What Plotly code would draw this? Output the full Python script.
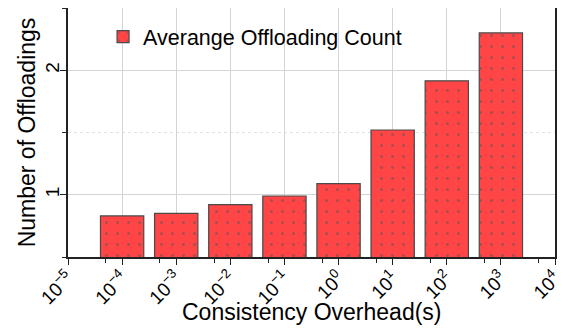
import math

import plotly.graph_objects as go


# data: x is the exponent of the consistency overhead (10^k seconds)
exponents = [-4, -3, -2, -1, 0, 1, 2, 3]
avg_offloads = [0.83, 0.85, 0.92, 0.99, 1.09, 1.52, 1.915, 2.30]
tick_exps = [-5, -4, -3, -2, -1, 0, 1, 2, 3, 4]
tick_labels = [f"10<sup>{str(k).replace('-', '−')}</sup>" for k in tick_exps]

FONT = "Liberation Sans, Arial, sans-serif"
BAR_RED = "#ff4545"
AXIS = "#222222"
GRID = "#d4d4d4"

fig = go.Figure()
fig.add_trace(go.Bar(
    x=exponents, y=avg_offloads, width=0.8,
    name="Averange Offloading Count",
    marker=dict(color=BAR_RED, line=dict(color="#4a4a4a", width=1.2),
                pattern=dict(shape=".", fgcolor="#555555", bgcolor=BAR_RED, size=11, solidity=0.06)),
))

# one minor tick per decade, at 5 x 10^(k-1)
minor_x = [k - 1 + math.log10(5) for k in tick_exps[1:]]

# the page body adds an 8px margin, so the figure is a bit smaller than the window
fig.update_layout(
    width=563, height=327,
    margin=dict(l=60, r=16, t=0, b=78),
    plot_bgcolor="white", paper_bgcolor="white",
    font=dict(family=FONT, color="black"),
    showlegend=True,
    legend=dict(x=0.072, y=0.967, xanchor="left", yanchor="top", bgcolor="rgba(0,0,0,0)",
                font=dict(size=21.5, family=FONT)),
    xaxis=dict(
        range=[-5, 4], tickmode="array", tickvals=tick_exps, ticktext=tick_labels,
        tickangle=-45, tickfont=dict(size=19), automargin=False, ticklabelstandoff=-5,
        showline=True, linecolor=AXIS, linewidth=1.5, mirror=True,
        ticks="outside", ticklen=6, tickwidth=1.2, tickcolor=AXIS,
        showgrid=True, gridcolor=GRID, gridwidth=1, zeroline=False,
        minor=dict(tickvals=minor_x, ticks="outside", ticklen=4, tickcolor=AXIS, showgrid=False),
    ),
    yaxis=dict(
        range=[0.5, 2.5], tickvals=[1, 2], tickangle=-90, tickfont=dict(size=19),
        automargin=False, ticklabelstandoff=-6,
        showline=True, linecolor=AXIS, linewidth=1.5, mirror=True,
        ticks="outside", ticklen=6, tickwidth=1.2, tickcolor=AXIS,
        showgrid=True, gridcolor=GRID, gridwidth=1, zeroline=False,
        minor=dict(dtick=0.5, tick0=0, ticks="outside", ticklen=4, tickcolor=AXIS,
                   showgrid=True, gridcolor="#e2e2e2", griddash="dot"),
        title=dict(text="Number of Offloadings", font=dict(size=23), standoff=0),
    ),
)

# x-axis title sits close under the rotated tick labels
fig.add_annotation(text="Consistency Overhead(s)", xref="paper", yref="paper", x=0.5, y=-0.22,
                   xanchor="center", yanchor="middle", showarrow=False, font=dict(size=23))

fig.write_html("out.html")
